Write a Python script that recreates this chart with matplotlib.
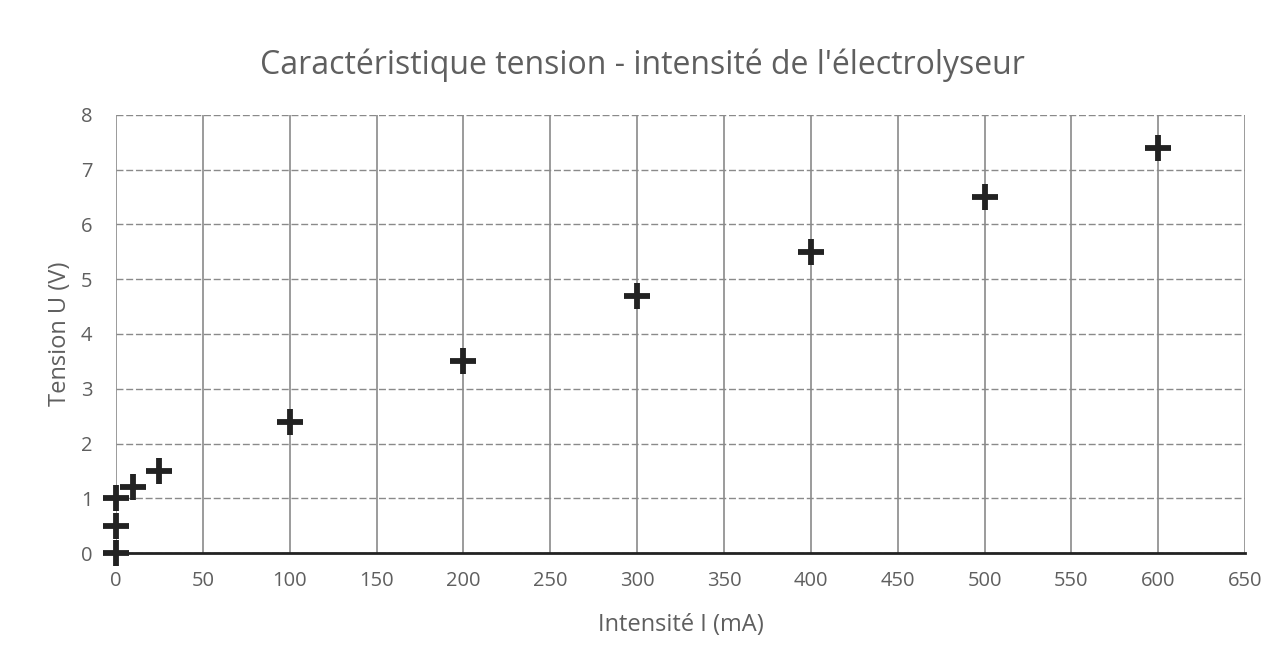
import matplotlib.pyplot as plt

# Données : intensité (mA) et tension (V)
intensite = [0, 0, 0, 10, 25, 100, 200, 300, 400, 500, 600]
tension = [0, 0.5, 1.0, 1.2, 1.5, 2.4, 3.5, 4.7, 5.5, 6.5, 7.4]
x_ticks = list(range(0, 651, 50))
y_ticks = list(range(0, 9))

plt.rcParams['font.family'] = ['Open Sans', 'DejaVu Sans']

fig = plt.figure(figsize=(12.85, 6.64), dpi=100)
ax = fig.add_axes([0.0903, 0.167, 0.8787, 0.66])

ax.plot(intensite, tension, linestyle='none', marker='+', markersize=19,
        markeredgewidth=4.2, color='#222222', zorder=5, clip_on=False)

ax.set_xlim(0, 650)
ax.set_ylim(0, 8)
ax.set_xticks(x_ticks)
ax.set_yticks(y_ticks)

# quadrillage : verticales pleines, horizontales en tirets
ax.grid(axis='x', color='#8a8a8a', linewidth=1.2, linestyle='-')
ax.grid(axis='y', color='#8a8a8a', linewidth=1.0, linestyle=(0, (5, 2)))
ax.set_axisbelow(True)

for s in ['left', 'top', 'right']:
    ax.spines[s].set_visible(False)
ax.spines['bottom'].set_color('#222222')
ax.spines['bottom'].set_linewidth(2)

ax.tick_params(length=0, labelsize=14.5, labelcolor='#5f5f5f')
ax.tick_params(axis='x', pad=13)
ax.tick_params(axis='y', pad=17)

ax.set_xlabel("Intensité I (mA)", fontsize=17, color='#5f5f5f', labelpad=16)
ax.set_ylabel("Tension U (V)", fontsize=17, color='#5f5f5f', labelpad=6)
fig.suptitle("Caractéristique tension - intensité de l'électrolyseur",
             fontsize=23, color='#5f5f5f', y=0.927)

fig.savefig('out.png', dpi=100)
